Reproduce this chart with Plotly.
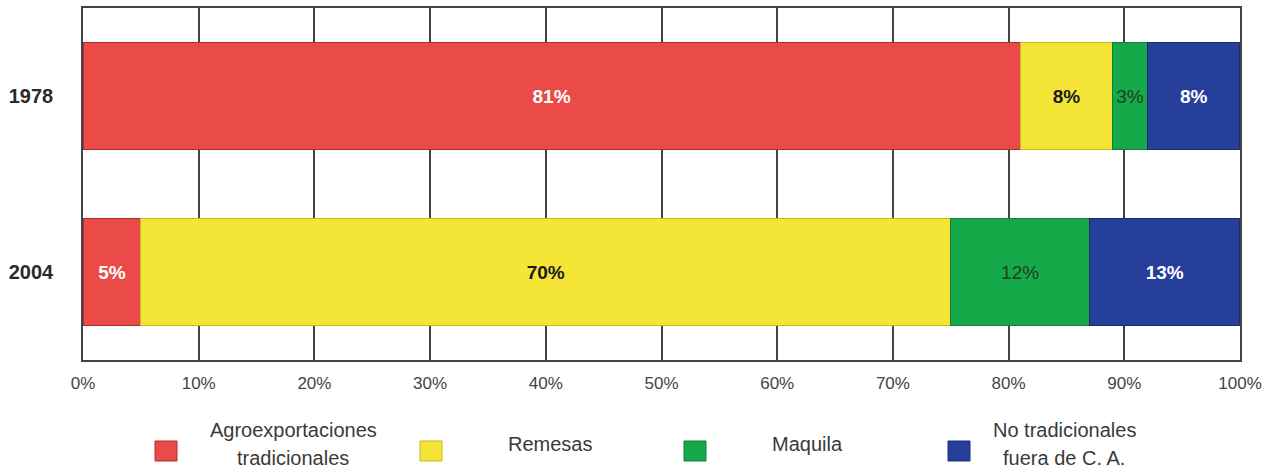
import plotly.graph_objects as go

years = ["1978", "2004"]
series_names = ["Agroexportaciones<br>tradicionales", "Remesas", "Maquila", "No tradicionales<br>fuera de C. A."]
agro = [81, 5]
remesas = [8, 70]
maquila = [3, 12]
no_trad = [8, 13]
values = [agro, remesas, maquila, no_trad]
tick_vals = [0, 10, 20, 30, 40, 50, 60, 70, 80, 90, 100]
tick_text = ["0%", "10%", "20%", "30%", "40%", "50%", "60%", "70%", "80%", "90%", "100%"]

colors = ["#EA4A48", "#F5E536", "#16A94A", "#253F9B"]
edge_colors = ["#B82A2A", "#C8B820", "#0E7F38", "#1A2C75"]
text_colors = ["white", "#1a1a1a", "#1f3d1f", "white"]
text_bold = [True, True, False, True]

fig = go.Figure()
for name, vals, c, ec, tc, b in zip(series_names, values, colors, edge_colors, text_colors, text_bold):
    fig.add_trace(go.Bar(
        y=years, x=vals, orientation="h", name=name.replace("<br>", " "),
        marker=dict(color=c, line=dict(color=ec, width=1.2)),
        text=[f"<b>{v}%</b>" if b else f"{v}%" for v in vals],
        textposition="inside", insidetextanchor="middle",
        textfont=dict(color=tc, size=19, family="Liberation Sans"),
        textangle=0, constraintext="none",
        showlegend=False, hoverinfo="skip",
    ))

fig.update_layout(
    barmode="stack",
    bargap=0.39,
    width=1264, height=469,
    autosize=False,
    margin=dict(l=83, r=24, t=8, b=109),
    paper_bgcolor="white", plot_bgcolor="white",
    font=dict(family="Liberation Sans", color="#333333"),
    xaxis=dict(
        range=[0, 100], tickvals=tick_vals, ticktext=tick_text,
        showgrid=True, gridcolor="#444444", gridwidth=1.5,
        showline=True, linecolor="#444444", linewidth=1.5, mirror=True,
        zeroline=False, tickfont=dict(size=17, color="#444444"),
        ticks="", ticklabelstandoff=7, automargin=False,
    ),
    yaxis=dict(
        categoryorder="array", categoryarray=years, autorange="reversed",
        showgrid=False, showline=True, linecolor="#444444", linewidth=1.5, mirror=True,
        tickfont=dict(size=20, color="#2a2a2a"), ticks="",
        ticklabelstandoff=24, automargin=False,
        tickvals=years, ticktext=[f"<b>{y}</b>" for y in years],
    ),
)

# manual legend (page pixel positions mapped to paper coords)
def px_x(p):
    return (p - 83) / 1157.0

def px_y(p):
    return (360 - p) / 352.0

leg_marker_x = [166, 431, 695, 959]
leg_text_x = [293, 550, 807, 1064]
for name, c, ec, mx, tx in zip(series_names, colors, edge_colors, leg_marker_x, leg_text_x):
    fig.add_shape(type="rect", xref="paper", yref="paper",
                  x0=px_x(mx - 11), x1=px_x(mx + 11),
                  y0=px_y(461), y1=px_y(441),
                  fillcolor=c, line=dict(color=ec, width=1))
    lines = name.split("<br>")
    if len(lines) == 1:
        ys = [444]
    else:
        ys = [430, 458]
    for line, ly in zip(lines, ys):
        fig.add_annotation(xref="paper", yref="paper",
                           x=px_x(tx), y=px_y(ly),
                           text=line, showarrow=False, align="center",
                           font=dict(size=20, color="#3a3a3a", family="Liberation Sans"),
                           xanchor="center", yanchor="middle")

fig.write_html("out.html",
               config={"displayModeBar": False, "responsive": False},
               post_script="document.body.style.margin='0';document.body.style.overflow='hidden';")
